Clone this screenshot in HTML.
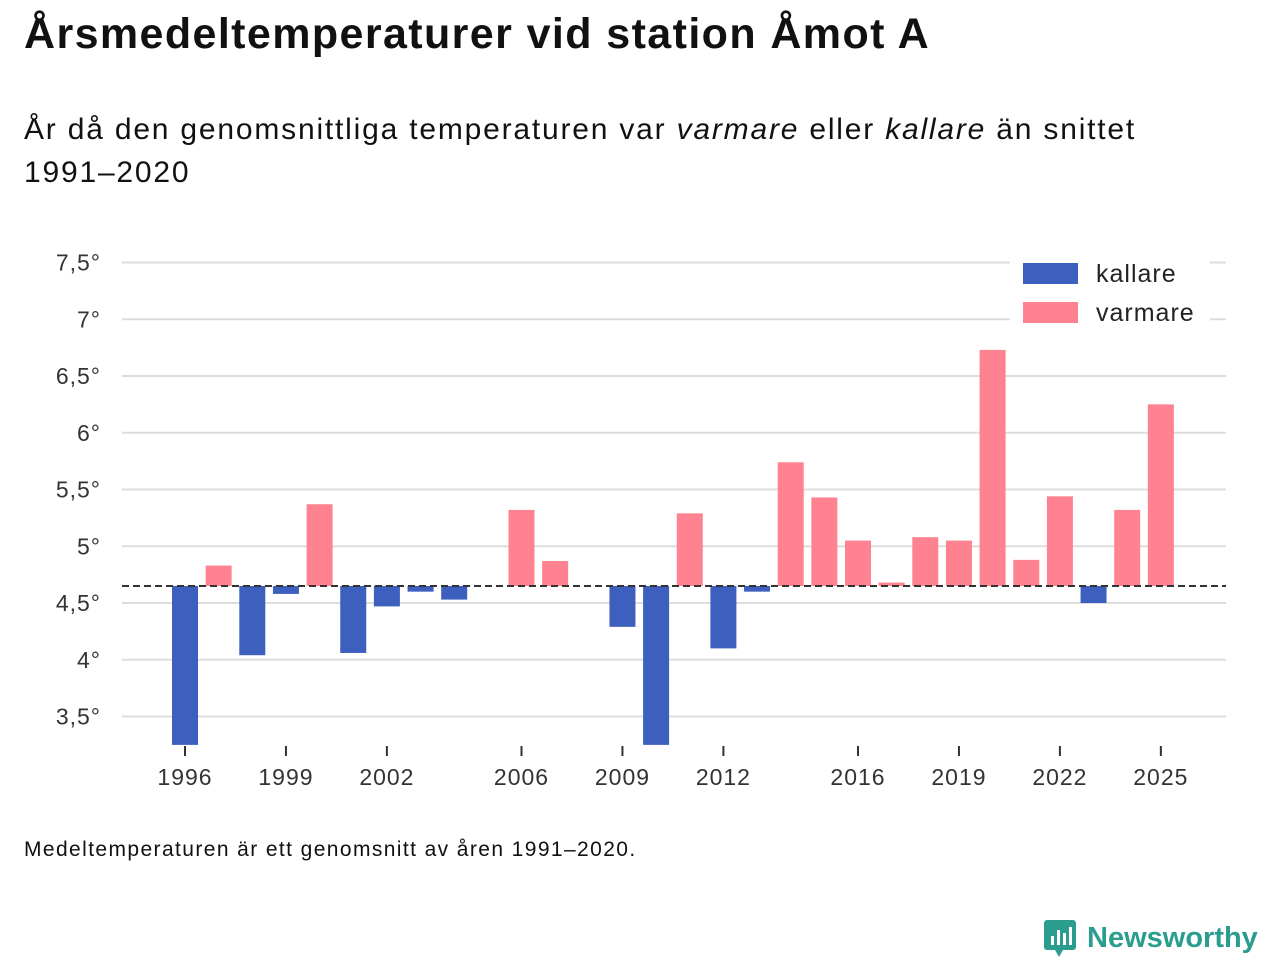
<!DOCTYPE html>
<html><head><meta charset="utf-8">
<style>
body{margin:0;width:1280px;height:960px;background:#fff;font-family:"Liberation Sans","DejaVu Sans",sans-serif;color:#111;position:relative;overflow:hidden}
h1{position:absolute;left:24px;top:10px;margin:0;font-size:43px;font-weight:bold;letter-spacing:1.4px}
.sub{position:absolute;left:24px;top:108px;font-size:30px;line-height:43px;width:1150px;letter-spacing:1.8px}
.note{position:absolute;left:24px;top:838px;font-size:21px;letter-spacing:1.4px}
.logo{position:absolute;left:1043px;top:918px;display:flex;align-items:center;gap:8px;color:#2a9d8f;font-size:29px;font-weight:bold}
</style></head><body>
<h1>Årsmedeltemperaturer vid station Åmot A</h1>
<div class="sub">År då den genomsnittliga temperaturen var <i>varmare</i> eller <i>kallare</i> än snittet 1991–2020</div>
<svg id="chart" width="1280" height="960" style="position:absolute;left:0;top:0"></svg>
<div class="note">Medeltemperaturen är ett genomsnitt av åren 1991–2020.</div>
<div class="logo"><svg width="36" height="40"><rect x="1" y="2" width="32" height="30" rx="3" fill="#2a9d8f"/><polygon points="12,32 20,32 16,39" fill="#2a9d8f"/><rect x="8" y="18" width="3" height="9" fill="#fff"/><rect x="14" y="12" width="3" height="15" fill="#fff"/><rect x="20" y="15" width="3" height="12" fill="#fff"/><rect x="26" y="9" width="3" height="18" fill="#fff"/></svg>Newsworthy</div>
<script>
const years=[1996,1997,1998,1999,2000,2001,2002,2003,2004,2006,2007,2009,2010,2011,2012,2013,2014,2015,2016,2017,2018,2019,2020,2021,2022,2023,2024,2025];
const temps=[3.25,4.83,4.04,4.58,5.37,4.06,4.47,4.6,4.53,5.32,4.87,4.29,3.25,5.29,4.1,4.6,5.74,5.43,5.05,4.68,5.08,5.05,6.73,4.88,5.44,4.5,5.32,6.25];
const baseline=4.65;
const yTicks=[3.5,4,4.5,5,5.5,6,6.5,7,7.5];
const xTicks=[1996,1999,2002,2006,2009,2012,2016,2019,2022,2025];
const NS="http://www.w3.org/2000/svg";
const svg=document.getElementById('chart');
const y=v=>603-(v-4.5)*113.5;
const x=yr=>185+(yr-1996)*33.65;
function mk(t,a){const e=document.createElementNS(NS,t);for(const k in a)e.setAttribute(k,a[k]);svg.appendChild(e);return e;}
yTicks.forEach(v=>{
 const g=mk('line',{x1:122,x2:1226,y1:y(v),y2:y(v),stroke:'#ddd','stroke-width':2});
 
 
 const t=mk('text',{x:101,y:y(v)+8,'text-anchor':'end','font-size':23,fill:'#333','font-family':'Liberation Sans, sans-serif','letter-spacing':1});
 t.textContent=String(v).replace('.',',')+'°';
 
 
});
years.forEach((yr,i)=>{
 const v=temps[i],top=Math.min(y(v),y(baseline)),h=Math.abs(y(v)-y(baseline));
 const r=mk('rect',{x:x(yr)-13,y:top,width:26,height:h,fill:v<baseline?'#3d5fbd':'#ff8290'});
 
 
});
const bl=mk('line',{x1:122,x2:1226,y1:y(baseline),y2:y(baseline),stroke:'#333','stroke-width':2,'stroke-dasharray':'7,4'});


xTicks.forEach(yr=>{
 const l=mk('line',{x1:x(yr),x2:x(yr),y1:746,y2:756,stroke:'#333','stroke-width':2});
 
 
 const t=mk('text',{x:x(yr),y:785,'text-anchor':'middle','font-size':23,fill:'#333','font-family':'Liberation Sans, sans-serif','letter-spacing':1});
 t.textContent=yr;
 
 
});
const lb=mk('rect',{x:1010,y:256,width:200,height:76,fill:'#fff'});


[['kallare','#3d5fbd',263],['varmare','#ff8290',302]].forEach(([n,c,yy])=>{
 const s=mk('rect',{x:1023,y:yy,width:55,height:21,fill:c});
 
 
 const t=mk('text',{x:1096,y:yy+19,'font-size':25,fill:'#222','font-family':'Liberation Sans, sans-serif','letter-spacing':1});
 t.textContent=n;
 
 
});
</script>
</body></html>
